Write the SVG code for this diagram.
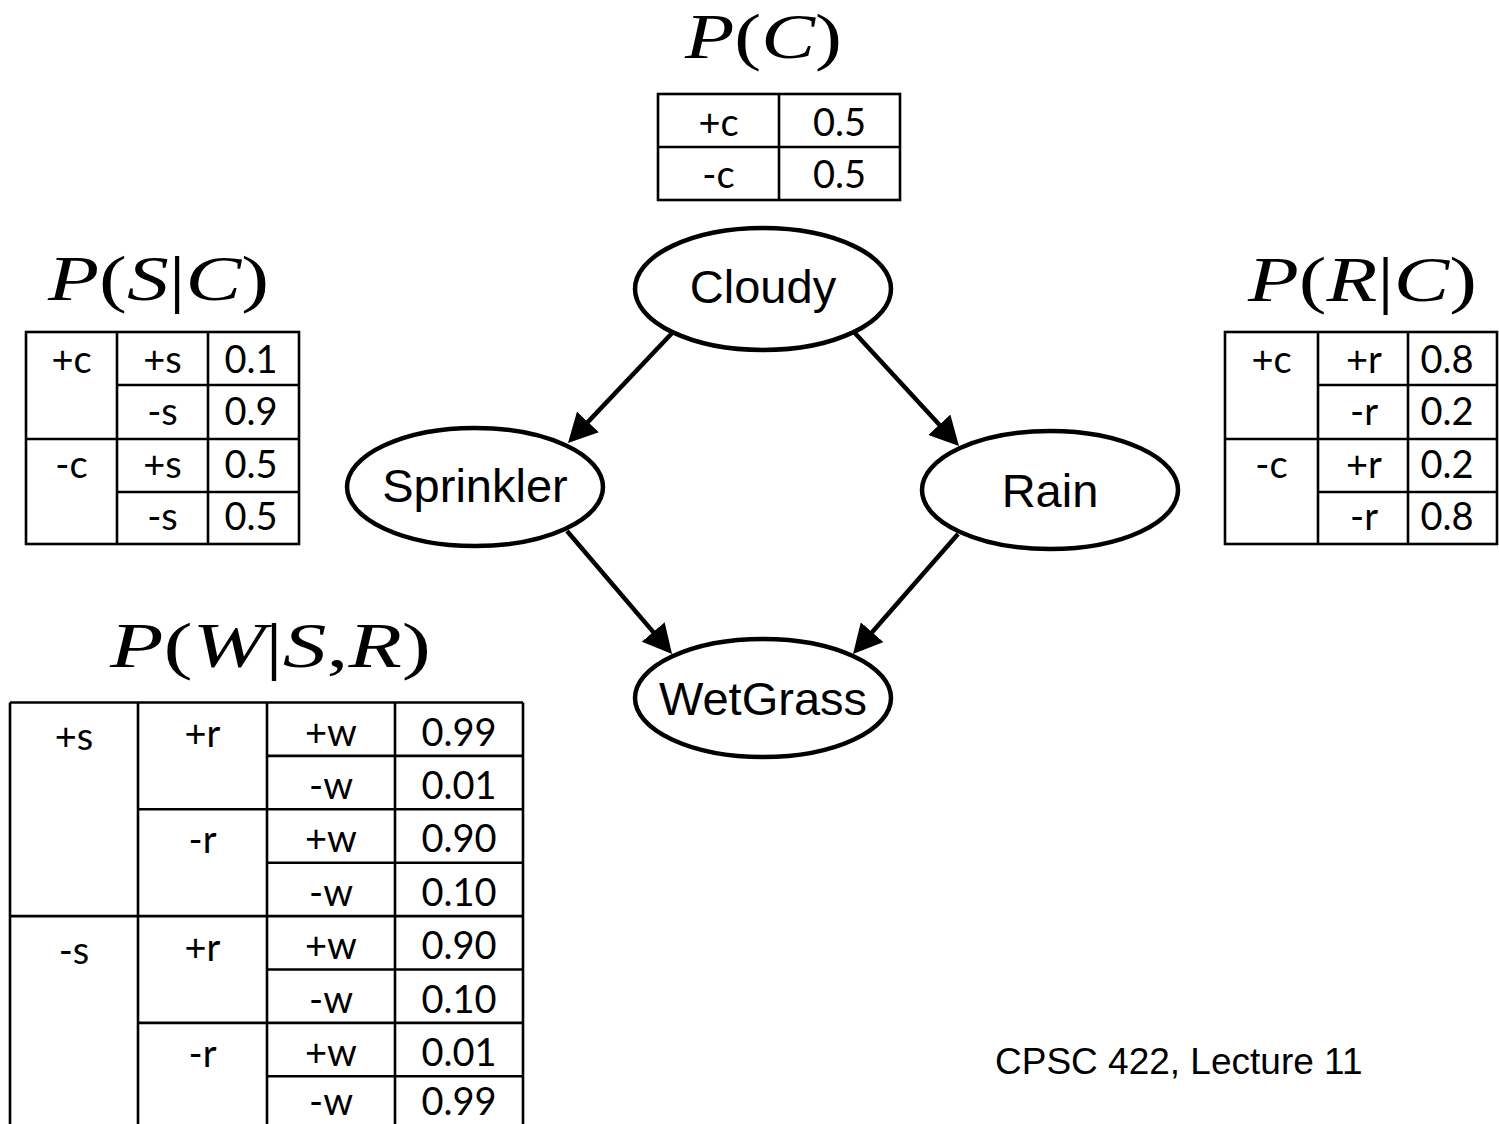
<svg xmlns="http://www.w3.org/2000/svg" width="1499" height="1124" viewBox="0 0 1499 1124">
<style>
.node ellipse{fill:#fff;stroke:#000;stroke-width:4.5}
.node text{font-family:"Liberation Sans",Arial,sans-serif;font-size:47px;text-anchor:middle;fill:#000}
.edge{stroke:#000;stroke-width:4.5;fill:none;marker-end:url(#ah)}
.grid{stroke:#000;stroke-width:2.6;fill:none}
.cell{font-family:Lato,"Open Sans",sans-serif;font-size:38px;text-anchor:middle;fill:#000}
.math{font-family:"Liberation Serif","Times New Roman",serif;font-size:64px;fill:#000}
.math .i{font-style:italic}
.foot{font-family:"Liberation Sans",Arial,sans-serif;font-size:37px;fill:#000}
</style>
<defs>
<marker id="ah" markerUnits="userSpaceOnUse" viewBox="0 0 29 30" markerWidth="29" markerHeight="30" refX="14" refY="15" orient="auto">
<path d="M0,0 L29,15 L0,30 Z" fill="#000"/>
</marker>
</defs>
<rect width="1499" height="1124" fill="#fff"/>

<g id="connectors">
<line class="edge" x1="674" y1="331" x2="578.3" y2="432.1"/>
<line class="edge" x1="853" y1="331" x2="948.8" y2="435"/>
<line class="edge" x1="567" y1="531" x2="662.3" y2="642.6"/>
<line class="edge" x1="958" y1="534" x2="862.9" y2="642.7"/>
</g>

<g id="node-cloudy" class="node">
<ellipse cx="763" cy="289" rx="128" ry="61"/>
<text x="763" y="303">Cloudy</text>
</g>
<g id="node-sprinkler" class="node">
<ellipse cx="475" cy="487" rx="128" ry="59"/>
<text x="475" y="502">Sprinkler</text>
</g>
<g id="node-rain" class="node">
<ellipse cx="1050" cy="490" rx="128" ry="59"/>
<text x="1050" y="507">Rain</text>
</g>
<g id="node-wetgrass" class="node">
<ellipse cx="763" cy="698" rx="128" ry="59"/>
<text x="763" y="715">WetGrass</text>
</g>

<g id="table-pc">
<text class="math" x="685" y="58" textLength="157" lengthAdjust="spacingAndGlyphs"><tspan class="i">P</tspan>(<tspan class="i">C</tspan>)</text>
<rect class="grid" x="658" y="94" width="242" height="106"/>
<line class="grid" x1="779" y1="94" x2="779" y2="200"/>
<line class="grid" x1="658" y1="147" x2="900" y2="147"/>
<text class="cell" x="718.5" y="136">+c</text>
<text class="cell" x="839.5" y="136">0.5</text>
<text class="cell" x="718.5" y="188">-c</text>
<text class="cell" x="839.5" y="188">0.5</text>
</g>

<g id="table-psc">
<text class="math" x="48" y="300" textLength="221" lengthAdjust="spacingAndGlyphs"><tspan class="i">P</tspan>(<tspan class="i">S</tspan>|<tspan class="i">C</tspan>)</text>
<rect class="grid" x="26" y="332" width="273" height="212"/>
<line class="grid" x1="117" y1="332" x2="117" y2="544"/>
<line class="grid" x1="208" y1="332" x2="208" y2="544"/>
<line class="grid" x1="117" y1="385" x2="299" y2="385"/>
<line class="grid" x1="26" y1="439" x2="299" y2="439"/>
<line class="grid" x1="117" y1="492" x2="299" y2="492"/>
<text class="cell" x="71.5" y="373">+c</text>
<text class="cell" x="162.5" y="373">+s</text>
<text class="cell" x="251" y="373">0.1</text>
<text class="cell" x="162.5" y="425">-s</text>
<text class="cell" x="251" y="425">0.9</text>
<text class="cell" x="71.5" y="478">-c</text>
<text class="cell" x="162.5" y="478">+s</text>
<text class="cell" x="251" y="478">0.5</text>
<text class="cell" x="162.5" y="530">-s</text>
<text class="cell" x="251" y="530">0.5</text>
</g>

<g id="table-prc">
<text class="math" x="1248" y="301" textLength="229" lengthAdjust="spacingAndGlyphs"><tspan class="i">P</tspan>(<tspan class="i">R</tspan>|<tspan class="i">C</tspan>)</text>
<rect class="grid" x="1225" y="332" width="272" height="212"/>
<line class="grid" x1="1318" y1="332" x2="1318" y2="544"/>
<line class="grid" x1="1408" y1="332" x2="1408" y2="544"/>
<line class="grid" x1="1318" y1="385" x2="1497" y2="385"/>
<line class="grid" x1="1225" y1="439" x2="1497" y2="439"/>
<line class="grid" x1="1318" y1="492" x2="1497" y2="492"/>
<text class="cell" x="1271.5" y="373">+c</text>
<text class="cell" x="1364" y="373">+r</text>
<text class="cell" x="1447" y="373">0.8</text>
<text class="cell" x="1364" y="425">-r</text>
<text class="cell" x="1447" y="425">0.2</text>
<text class="cell" x="1271.5" y="478">-c</text>
<text class="cell" x="1364" y="478">+r</text>
<text class="cell" x="1447" y="478">0.2</text>
<text class="cell" x="1364" y="530">-r</text>
<text class="cell" x="1447" y="530">0.8</text>
</g>

<g id="table-pwsr">
<text class="math" x="110" y="667" textLength="321" lengthAdjust="spacingAndGlyphs"><tspan class="i">P</tspan>(<tspan class="i">W</tspan>|<tspan class="i">S</tspan>,<tspan class="i">R</tspan>)</text>
<line class="grid" x1="10" y1="702.5" x2="523" y2="702.5"/>
<line class="grid" x1="10" y1="702.5" x2="10" y2="1130"/>
<line class="grid" x1="138" y1="702.5" x2="138" y2="1130"/>
<line class="grid" x1="267" y1="702.5" x2="267" y2="1130"/>
<line class="grid" x1="395" y1="702.5" x2="395" y2="1130"/>
<line class="grid" x1="523" y1="702.5" x2="523" y2="1130"/>
<line class="grid" x1="267" y1="755.9" x2="523" y2="755.9"/>
<line class="grid" x1="138" y1="809.3" x2="523" y2="809.3"/>
<line class="grid" x1="267" y1="862.7" x2="523" y2="862.7"/>
<line class="grid" x1="10" y1="916.1" x2="523" y2="916.1"/>
<line class="grid" x1="267" y1="969.5" x2="523" y2="969.5"/>
<line class="grid" x1="138" y1="1022.9" x2="523" y2="1022.9"/>
<line class="grid" x1="267" y1="1076.3" x2="523" y2="1076.3"/>
<text class="cell" x="74" y="750">+s</text>
<text class="cell" x="74" y="964">-s</text>
<text class="cell" x="202.5" y="747">+r</text>
<text class="cell" x="202.5" y="853">-r</text>
<text class="cell" x="202.5" y="961">+r</text>
<text class="cell" x="202.5" y="1067">-r</text>
<text class="cell" x="331" y="745.5">+w</text>
<text class="cell" x="459" y="745.5">0.99</text>
<text class="cell" x="331" y="798.9">-w</text>
<text class="cell" x="459" y="798.9">0.01</text>
<text class="cell" x="331" y="852.3">+w</text>
<text class="cell" x="459" y="852.3">0.90</text>
<text class="cell" x="331" y="905.7">-w</text>
<text class="cell" x="459" y="905.7">0.10</text>
<text class="cell" x="331" y="959.1">+w</text>
<text class="cell" x="459" y="959.1">0.90</text>
<text class="cell" x="331" y="1012.5">-w</text>
<text class="cell" x="459" y="1012.5">0.10</text>
<text class="cell" x="331" y="1065.9">+w</text>
<text class="cell" x="459" y="1065.9">0.01</text>
<text class="cell" x="331" y="1115">-w</text>
<text class="cell" x="459" y="1115">0.99</text>
</g>

<text class="foot" x="995" y="1074">CPSC 422, Lecture 11</text>
</svg>
